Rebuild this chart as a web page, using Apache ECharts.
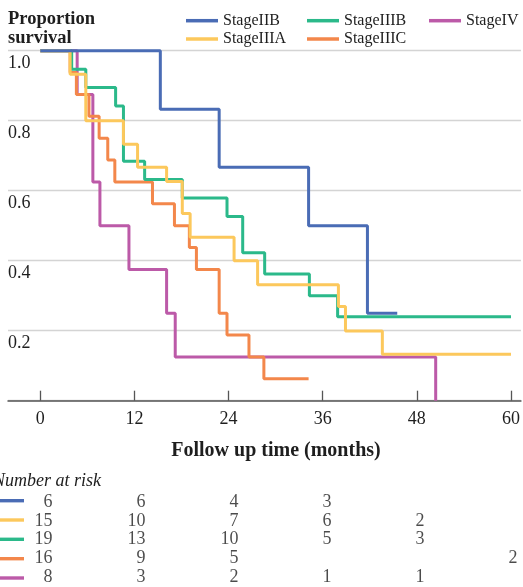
<!DOCTYPE html>
<html><head><meta charset="utf-8">
<script src="https://cdn.jsdelivr.net/npm/echarts@6/dist/echarts.min.js"></script>
<style>html,body{margin:0;padding:0;background:#fff}#c{width:523px;height:587px}</style>
</head><body><div id="c"></div>
<script>
// ---- data ----
const stageNames = ['StageIIB', 'StageIIIA', 'StageIIIB', 'StageIIIC', 'StageIV'];
const stageColors = ['#4a6cb5', '#fcc85c', '#2bb98a', '#f3874b', '#bc5aa8'];

const timesIIB = [0, 15.3, 22.8, 34.2, 41.7, 45.5];
const survIIB  = [1, 0.833, 0.667, 0.5, 0.25, 0.25];

const timesIIIA = [0, 3.8, 5.8, 10.6, 12.4, 16.1, 18.1, 19.1, 24.7, 27.7, 38.0, 38.9, 43.6, 60];
const survIIIA  = [1, 0.933, 0.8, 0.733, 0.667, 0.626, 0.535, 0.467, 0.40, 0.331, 0.269, 0.199, 0.133, 0.133];

const timesIIIB = [0, 4.0, 5.8, 9.6, 10.6, 13.3, 18.1, 23.8, 25.8, 28.6, 34.3, 37.9, 60];
const survIIIB  = [1, 0.947, 0.895, 0.842, 0.684, 0.632, 0.579, 0.526, 0.423, 0.362, 0.30, 0.24, 0.24];

const timesIIIC = [0, 3.8, 4.6, 6.2, 7.5, 8.6, 9.5, 14.3, 17.1, 19.0, 19.9, 22.8, 23.8, 26.6, 28.5, 34.2];
const survIIIC  = [1, 0.9375, 0.875, 0.8125, 0.75, 0.6875, 0.625, 0.5625, 0.5, 0.4375, 0.375, 0.25, 0.1875, 0.125, 0.0625, 0.0625];

const timesIV = [0, 4.7, 6.7, 7.6, 11.3, 16.1, 17.2, 50.4];
const survIV  = [1, 0.875, 0.625, 0.5, 0.375, 0.25, 0.125, 0];

const xTicks = [0, 12, 24, 36, 48, 60];
const yTicks = [0.2, 0.4, 0.6, 0.8, 1.0];

const riskTimes = [0, 12, 24, 36, 48, 60];
const riskIIB  = [6, 6, 4, 3, null, null];
const riskIIIA = [15, 10, 7, 6, 2, null];
const riskIIIB = [19, 13, 10, 5, 3, null];
const riskIIIC = [16, 9, 5, null, null, 2];
const riskIV   = [8, 3, 2, 1, 1, null];

// ---- build ----
const FONT = '"Liberation Serif", "Times New Roman", serif';
const TXT = '#1e1e1e';
const curves = {
  StageIIB: [timesIIB, survIIB],
  StageIIIA: [timesIIIA, survIIIA],
  StageIIIB: [timesIIIB, survIIIB],
  StageIIIC: [timesIIIC, survIIIC],
  StageIV: [timesIV, survIV]
};
const risks = {StageIIB: riskIIB, StageIIIA: riskIIIA, StageIIIB: riskIIIB, StageIIIC: riskIIIC, StageIV: riskIV};
const colorOf = n => stageColors[stageNames.indexOf(n)];
const drawOrder = ['StageIV', 'StageIIIC', 'StageIIIB', 'StageIIIA', 'StageIIB'];

const series = drawOrder.map(n => ({
  name: n, type: 'line', step: 'end', symbol: 'none', clip: false,
  xAxisIndex: 0, yAxisIndex: 0,
  lineStyle: {width: 3, color: colorOf(n)}, itemStyle: {color: colorOf(n)},
  data: curves[n][0].map((t, i) => [t, curves[n][1][i]])
}));

stageNames.forEach(n => {
  const arr = risks[n];
  series.push({
    type: 'scatter', xAxisIndex: 1, yAxisIndex: 1, symbolSize: 1, silent: true,
    itemStyle: {color: 'rgba(0,0,0,0)'},
    label: {show: true, position: 'left', distance: 0, fontFamily: FONT, fontSize: 18, color: TXT,
            formatter: p => String(p.value[2])},
    data: riskTimes.map((t, i) => arr[i] == null ? null : [t, n, arr[i]]).filter(d => d)
  });
});

const legendCommon = {
  orient: 'vertical', padding: 0, itemWidth: 32, itemHeight: 3.5, icon: 'rect', itemGap: 0.3,
  selectedMode: false, top: 11.7,
  textStyle: {fontFamily: FONT, fontSize: 16, color: TXT, lineHeight: 18}
};

const riskRowsY = [500.7, 520, 539.3, 558.7, 578];
const graphics = stageNames.map((n, i) => ({
  type: 'rect', shape: {x: 0, y: riskRowsY[i] - 1.7, width: 24, height: 3.4},
  style: {fill: colorOf(n)}
}));

const chart = echarts.init(document.getElementById('c'), null, {renderer: 'canvas'});
chart.setOption({
  animation: false,
  backgroundColor: '#fff',
  title: [
    {text: 'Proportion\nsurvival', left: 8, top: 10, padding: 0,
     textStyle: {fontFamily: FONT, fontWeight: 'bold', fontSize: 18.5, lineHeight: 19, color: TXT}},
    {text: 'Follow up time (months)', left: 276, top: 441, padding: 0, textAlign: 'center',
     textStyle: {fontFamily: FONT, fontWeight: 'bold', fontSize: 20, lineHeight: 20, color: TXT}},
    {text: 'Number at risk', left: -7, top: 472, padding: 0,
     textStyle: {fontFamily: FONT, fontStyle: 'italic', fontWeight: 'normal', fontSize: 18, lineHeight: 18, color: TXT}}
  ],
  legend: [
    Object.assign({}, legendCommon, {left: 186, data: ['StageIIB', 'StageIIIA']}),
    Object.assign({}, legendCommon, {left: 307, data: ['StageIIIB', 'StageIIIC']}),
    Object.assign({}, legendCommon, {left: 429, data: ['StageIV']})
  ],
  grid: [
    {left: 8, right: 2, top: 50.7, bottom: 186.3},
    {left: 53, width: 465, top: 492.5, height: 96.5}
  ],
  xAxis: [
    {type: 'value', min: -4.117, max: 61.27, gridIndex: 0,
     axisLine: {show: true, lineStyle: {color: '#555', width: 1.5}},
     axisTick: {show: true, inside: true, length: 10, customValues: xTicks, lineStyle: {color: '#555', width: 1.3}},
     axisLabel: {show: true, customValues: xTicks, margin: 10, fontFamily: FONT, fontSize: 18, color: TXT},
     splitLine: {show: false}},
    {type: 'value', min: 0, max: 60, gridIndex: 1, show: false}
  ],
  yAxis: [
    {type: 'value', min: 0, max: 1, interval: 0.2, gridIndex: 0,
     axisLine: {show: false}, axisTick: {show: false},
     axisLabel: {inside: true, margin: 0, align: 'left', verticalAlign: 'top', lineHeight: 26,
                 fontFamily: FONT, fontSize: 18, color: TXT,
                 formatter: v => yTicks.some(t => Math.abs(t - v) < 1e-6) ? v.toFixed(1) : ''},
     splitLine: {show: true, lineStyle: {color: '#d4d4d4', width: 1.4}}},
    {type: 'category', gridIndex: 1, data: stageNames, inverse: true, show: false}
  ],
  graphic: graphics,
  series: series
});
</script></body></html>
